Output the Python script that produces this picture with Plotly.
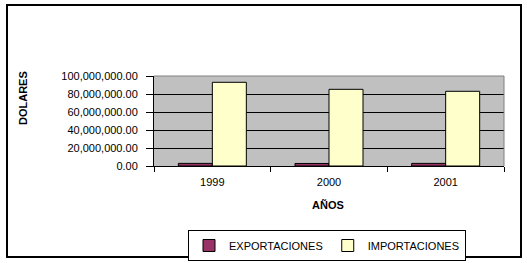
import plotly.graph_objects as go

years = ["1999", "2000", "2001"]
exportaciones = [2900000, 2800000, 2900000]
importaciones = [93000000, 85200000, 83000000]
y_ticks = [0, 20000000, 40000000, 60000000, 80000000, 100000000]

W, H = 527, 263
L, R, T, B = 154, 23, 76, 97
pw, ph = W - L - R, H - T - B

def px_x(x):
    return (x - L) / pw

def px_y(y):
    return (H - B - y) / ph

font = dict(family="Liberation Sans, Arial, sans-serif", size=11, color="black")

fig = go.Figure()
fig.add_trace(go.Bar(name="EXPORTACIONES", x=years, y=exportaciones,
                     marker=dict(color="#993366", line=dict(color="black", width=1))))
fig.add_trace(go.Bar(name="IMPORTACIONES", x=years, y=importaciones,
                     marker=dict(color="#FFFFCC", line=dict(color="black", width=1))))

fig.update_layout(
    width=W, height=H,
    margin=dict(l=L, r=R, t=T, b=B, pad=0, autoexpand=False),
    paper_bgcolor="white", plot_bgcolor="#C0C0C0",
    font=font,
    barmode="group", bargap=0.417, bargroupgap=0,
    showlegend=True,
    legend=dict(orientation="h", x=px_x(188), y=px_y(230), xanchor="left", yanchor="top",
                bordercolor="black", borderwidth=1, bgcolor="white",
                font=dict(family="Liberation Sans, Arial, sans-serif", size=11),
                itemwidth=30, tracegroupgap=0),
    xaxis=dict(type="category", showgrid=False, showline=True, linecolor="black", linewidth=1,
               ticks="outside", tickson="boundaries", ticklen=5, tickcolor="black",
               tickfont=font, zeroline=False, ticklabelstandoff=6),
    yaxis=dict(range=[0, 100000000], tickvals=y_ticks, tickformat=",.2f",
               showgrid=True, gridcolor="black", gridwidth=1,
               showline=True, linecolor="black", linewidth=1,
               ticks="outside", ticklen=7, tickcolor="black", tickfont=font,
               zeroline=False, ticklabelstandoff=6),
    shapes=[
        dict(type="line", xref="paper", yref="paper", x0=0, x1=1, y0=1, y1=1,
             line=dict(color="#808080", width=1), layer="above"),
        dict(type="line", xref="paper", yref="paper", x0=1, x1=1, y0=0, y1=1,
             line=dict(color="#808080", width=1), layer="above"),
        dict(type="rect", xref="paper", yref="paper",
             x0=px_x(7), x1=px_x(521), y0=px_y(5), y1=px_y(257),
             line=dict(color="black", width=2), fillcolor="rgba(0,0,0,0)", layer="above"),
    ],
    annotations=[
        dict(text="<b>DOLARES</b>", xref="paper", yref="paper", x=px_x(23), y=px_y(98),
             textangle=-90, showarrow=False, xanchor="center", yanchor="middle",
             font=dict(family="Liberation Sans, Arial, sans-serif", size=11)),
        dict(text="<b>AÑOS</b>", xref="paper", yref="paper", x=px_x(328), y=px_y(205),
             showarrow=False, xanchor="center", yanchor="middle",
             font=dict(family="Liberation Sans, Arial, sans-serif", size=11)),
    ],
)

fig.write_html("out.html")
